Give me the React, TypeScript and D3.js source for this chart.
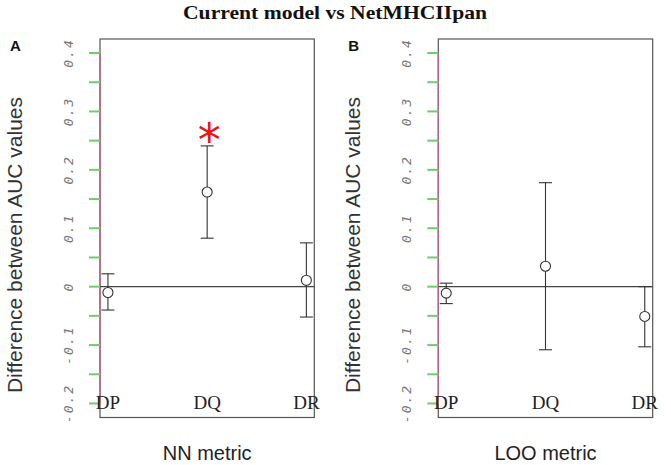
import React from "react";
import * as d3 from "d3";

const categories = ["DP", "DQ", "DR"];
const nnMean = [-0.01, 0.162, 0.011];
const nnLow = [-0.04, 0.083, -0.052];
const nnHigh = [0.022, 0.241, 0.075];
const looMean = [-0.011, 0.035, -0.051];
const looLow = [-0.029, -0.108, -0.103];
const looHigh = [0.006, 0.178, 0.0];
const yTicks = [0.4, 0.35, 0.3, 0.25, 0.2, 0.15, 0.1, 0.05, 0, -0.05, -0.1, -0.15, -0.2];
const yLabels = [0.4, 0.3, 0.2, 0.1, 0, -0.1, -0.2];
const significant = [false, true, false];

const W = 671, H = 465;
const TOP = 39, BOTTOM = 417.5;

function Panel({ left, right, letter, xTitle, mean, low, high, stars }: any) {
  const xs = d3.scaleLinear().domain([0.92, 3.08]).range([left, right]);
  const ys = d3.scaleLinear().domain([-0.224, 0.424]).range([BOTTOM, TOP]);
  const stroke = "#333";
  const cx = (i: number) => xs(i + 1);
  const midX = (left + right) / 2;
  return (
    <g>
      <text x={left - 90} y={51} fontFamily="Liberation Sans, Arial, sans-serif" fontWeight="bold" fontSize={15} fill="#111">{letter}</text>
      <text transform={`translate(${left - 78},${245}) rotate(-90)`} textAnchor="middle" fontFamily="Liberation Sans, Arial, sans-serif" fontSize={21} fill="#333">Difference between AUC values</text>
      <rect x={left} y={TOP} width={right - left} height={BOTTOM - TOP} fill="none" stroke="#555" strokeWidth={1.2} />
      <line x1={left} x2={left} y1={ys(0.4)} y2={ys(-0.2)} stroke="#b86585" strokeWidth={1.4} />
      {yTicks.map((t) => (
        <line key={t} x1={left - 11} x2={left} y1={ys(t)} y2={ys(t)} stroke="#6ccf6c" strokeWidth={2} />
      ))}
      {yLabels.map((t) => (
        <text key={t} transform={`translate(${left - 32},${ys(t)}) rotate(-90)`} textAnchor="middle" dominantBaseline="central" fontFamily="DejaVu Sans Mono, monospace" fontStyle="italic" fontSize={13} fill="#777" letterSpacing={2}>{t === 0 ? "0" : t.toFixed(1)}</text>
      ))}
      <line x1={left} x2={right} y1={ys(0)} y2={ys(0)} stroke="#444" strokeWidth={1.1} />
      {categories.map((c, i) => (
        <text key={c} x={cx(i)} y={ys(-0.2) + 6} textAnchor="middle" fontFamily="Liberation Serif, Times New Roman, serif" fontSize={19} fill="#222">{c}</text>
      ))}
      {categories.map((c, i) => (
        <g key={c} stroke={stroke} strokeWidth={1.1} fill="none">
          <line x1={cx(i)} x2={cx(i)} y1={ys(high[i])} y2={ys(low[i])} />
          <line x1={cx(i) - 6.5} x2={cx(i) + 6.5} y1={ys(high[i])} y2={ys(high[i])} />
          <line x1={cx(i) - 6.5} x2={cx(i) + 6.5} y1={ys(low[i])} y2={ys(low[i])} />
          <circle cx={cx(i)} cy={ys(mean[i])} r={5} fill="white" />
        </g>
      ))}
      {stars && stars.map((s: boolean, i: number) => s ? (
        <text key={i} x={cx(i) + 2} y={ys(high[i]) + 10} textAnchor="middle" fontFamily="DejaVu Sans, sans-serif" fontSize={46} fill="#ee1111">*</text>
      ) : null)}
      <text x={midX} y={460} textAnchor="middle" fontFamily="Liberation Sans, Arial, sans-serif" fontSize={20} fill="#222">{xTitle}</text>
    </g>
  );
}

export default function App() {
  return (
    <svg width={W} height={H} style={{ position: "absolute", left: 0, top: 0, background: "white" }}>
      <rect width={W} height={H} fill="white" />
      <text x={335} y={19} textAnchor="middle" fontFamily="Liberation Serif, Times New Roman, serif" fontWeight="bold" fontSize={19} textLength={304} lengthAdjust="spacingAndGlyphs" fill="#111">Current model vs NetMHCIIpan</text>
      <Panel left={100} right={314.3} letter="A" xTitle="NN metric" mean={nnMean} low={nnLow} high={nnHigh} stars={significant} />
      <Panel left={438.3} right={652.7} letter="B" xTitle="LOO metric" mean={looMean} low={looLow} high={looHigh} />
    </svg>
  );
}
